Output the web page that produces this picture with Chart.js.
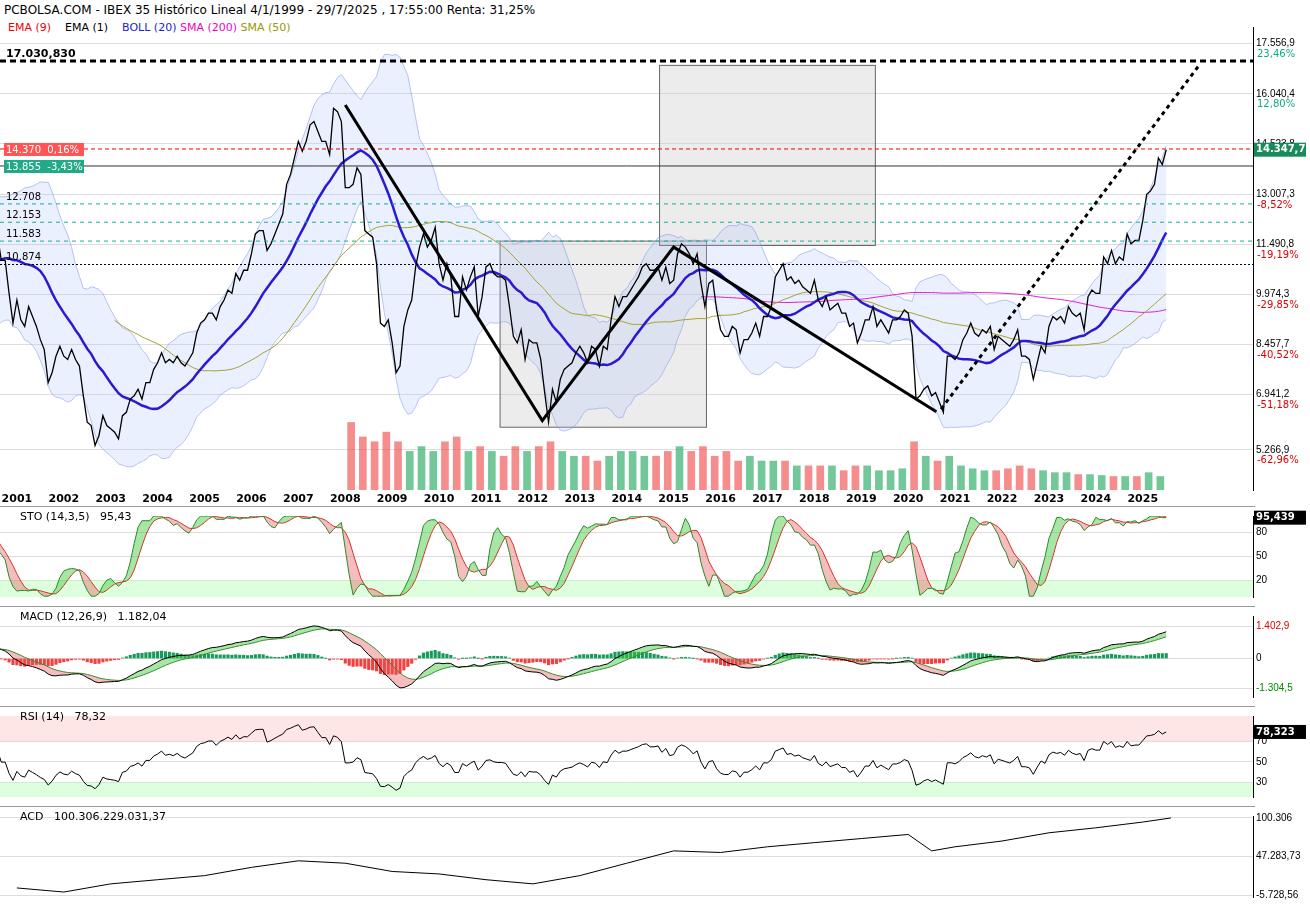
<!DOCTYPE html>
<html><head><meta charset="utf-8">
<script src="https://cdn.jsdelivr.net/npm/chart.js@4.4.1/dist/chart.umd.min.js"></script>
<style>
body{margin:0;background:#fff;font-family:"DejaVu Sans",Arial,sans-serif;}
#wrap{position:relative;width:1310px;height:912px;}
canvas{position:absolute;left:0;}
.lbl{position:absolute;font-size:11px;white-space:nowrap;}
.sep{position:absolute;left:0;width:1255px;height:1px;background:#999;}
</style></head><body>
<div id="wrap">
  <div class="lbl" style="left:4px;top:3px;font-size:12px;">PCBOLSA.COM - IBEX 35 Histórico Lineal 4/1/1999 - 29/7/2025 , 17:55:00 Renta: 31,25%</div>
  <div class="lbl" style="left:8px;top:21px;"><span style="color:#e00">EMA (9)</span>&nbsp;&nbsp;&nbsp;&nbsp;<span>EMA (1)</span>&nbsp;&nbsp;&nbsp;&nbsp;<span style="color:#22c">BOLL (20)</span>&nbsp;<span style="color:#e0c">SMA (200)</span>&nbsp;<span style="color:#990">SMA (50)</span></div>
  <canvas id="main" width="1310" height="490" style="top:18px"></canvas>
  <canvas id="sto" width="1310" height="99" style="top:507px"></canvas>
  <canvas id="macd" width="1310" height="99" style="top:607px"></canvas>
  <canvas id="rsi" width="1310" height="99" style="top:707px"></canvas>
  <canvas id="acd" width="1310" height="99" style="top:807px"></canvas>
  <div class="sep" style="top:506px"></div><div class="sep" style="top:606px"></div>
  <div class="sep" style="top:706px"></div><div class="sep" style="top:806px"></div>
  <div class="lbl" style="left:20px;top:510px;">STO (14,3,5)&nbsp;&nbsp;&nbsp;95,43</div>
  <div class="lbl" style="left:20px;top:610px;">MACD (12,26,9)&nbsp;&nbsp;&nbsp;1.182,04</div>
  <div class="lbl" style="left:20px;top:710px;">RSI (14)&nbsp;&nbsp;&nbsp;78,32</div>
  <div class="lbl" style="left:20px;top:810px;">ACD&nbsp;&nbsp;&nbsp;100.306.229.031,37</div>
</div>
<script>
// monthly closes, Jan 1999 .. Jul 2025
const closes = [
  10100,10300,10000,10100,10000,10100,10300,10000,10000,10200,10600,11600,
  12000,12800,12600,12300,11800,11400,11600,11800,11000,11000,10000,9100,
  9800,9200,9000,9600,9300,9000,8600,8300,7300,7600,8100,8400,
  8100,8000,8300,8000,7800,6900,6100,6000,5400,5700,6300,6000,
  5900,5800,5600,6300,6400,6800,6900,7100,6800,7300,7300,7700,
  7900,8200,7900,8000,7900,8100,7900,7800,8000,8200,8800,9100,
  9200,9400,9400,9200,9600,9800,10100,10000,10600,10400,10700,10700,
  11200,11800,11900,11900,11300,11500,11800,12100,12400,13300,13600,14100,
  14600,14300,14600,15100,15200,14900,14600,14600,14200,15600,15500,15200,
  13200,13200,13300,13800,13600,11900,11800,11700,10900,9100,9000,9200,
  8500,7600,7800,9000,9500,9800,10800,11400,11800,11400,11600,12000,
  10900,10400,10900,10500,9300,9300,10500,10100,10500,10800,9300,9900,
  10800,10900,10600,10500,10500,10400,9600,8700,8500,8900,8000,8600,
  8500,8500,8000,7000,6100,7100,6700,7400,7700,7800,7900,8200,
  8400,8200,7900,8400,8300,7800,8400,8300,9200,9900,9600,9900,
  9900,10100,10300,10500,10800,10900,10700,10700,10800,10400,10800,10300,
  10400,11200,11500,11400,11200,10900,11200,10300,9600,10300,10400,9500,
  8900,8700,8700,9000,8900,8200,8600,8600,8800,9100,8700,9300,
  9300,9600,10500,10700,10900,10400,10500,10300,10400,10200,10100,10000,
  10400,9800,9600,9900,9500,9600,9700,9400,9400,9000,9100,8500,
  8800,9200,9200,9600,9000,9200,9000,8800,9200,9200,9300,9500,
  9400,8700,6800,6900,7100,7200,6900,7000,6700,6400,8100,8100,
  8000,8200,8600,8800,9100,8800,8700,8900,8800,9000,8300,8700,
  8600,8500,8400,8600,8900,8100,8100,8000,7400,7900,8400,8200,
  9000,9300,9200,9300,9100,9600,9400,9300,9400,8900,9900,10100,
  10000,10000,11100,10900,11300,10900,11100,11000,11800,11500,11600,11600,
  12200,13000,13100,13300,14100,13900,14347
];
const startYear = 1999;
// quarterly volume 2008Q1 .. 2025Q2 (relative units)
const volumes = [70,55,50,60, 50,40,45,40, 50,55,40,45, 40,35,45,40, 45,50,40,35,
  35,30,35,40, 40,35,35,40, 45,40,45,35, 40,30,35,30, 30,30,25,25, 25,25,20,25,
  25,20,20,22, 50,35,30,35, 25,22,20,20, 22,25,22,20, 18,18,16,16, 15,14,14,14, 18,14];
const volStart = 2008;
// ACD (accumulation/distribution) read per year, millions
const acdYears = [2001,2002,2003,2004,2005,2006,2007,2008,2009,2010,2011,2012,2013,2014,2015,2016,2017,2018,2019,2020,2020.5,2021,2022,2023,2024,2025,2025.6];
const acdValues = [4400,-1200,10000,15700,21300,32600,41600,38300,27000,23600,15700,10000,21300,38300,55200,53000,60800,66500,72100,77700,55200,60800,68700,80000,86800,94700,100306];
const priceTicks = [17556.9,16040.4,14523.8,13007.3,11490.8,9974.3,8457.7,6941.2,5266.9];
const pctTicks = ["23,46%","12,80%","","-8,52%","-19,19%","-29,85%","-40,52%","-51,18%","-62,96%"];
const levels = [
  {v:17030.83,label:"17.030,830",color:"#000",dash:[6,4],w:3},
  {v:14370,label:"",color:"#e00",dash:[4,3],w:1},
  {v:13855,label:"",color:"#333",dash:[],w:1},
  {v:12708,label:"12.708",color:"#2a9",dash:[4,4],w:1},
  {v:12153,label:"12.153",color:"#2a9",dash:[4,4],w:1},
  {v:11583,label:"11.583",color:"#2a9",dash:[4,4],w:1},
  {v:10874,label:"10.874",color:"#000",dash:[2,2],w:1}
];
const boxes = [{x0:2011.3,x1:2015.7,y0:5950,y1:11583},{x0:2014.7,x1:2019.3,y0:11450,y1:16900}];
const trend = [[2008.0,15700],[2012.2,6150],[2015.0,11400],[2020.6,6420]];
const dotted = [[2020.7,6500],[2026.2,16900]];

const xMin = 2000.64, xMax = 2027.35;
const xs = closes.map((_, i) => startYear + i / 12);
const pts = a => a.map((v, i) => ({x: xs[i], y: v}));

function sma(a, n) { return a.map((_, i) => i < n - 1 ? null : a.slice(i - n + 1, i + 1).reduce((s, v) => s + v, 0) / n); }
function ema(a, n) { const k = 2 / (n + 1); let e = a[0]; return a.map(v => (e = v * k + e * (1 - k))); }
const mid = sma(closes, 20);
const sd = closes.map((_, i) => { if (i < 19) return null; const s = closes.slice(i - 19, i + 1); const m = mid[i]; return Math.sqrt(s.reduce((t, v) => t + (v - m) ** 2, 0) / 20); });
const up = mid.map((m, i) => m == null ? null : m + 2 * sd[i]);
const lo = mid.map((m, i) => m == null ? null : m - 2 * sd[i]);
const sma50 = sma(closes, 50), sma200 = sma(closes, 200);
const rawK = closes.map((c, i) => { const s = closes.slice(Math.max(0, i - 13), i + 1); const h = Math.max(...s), l = Math.min(...s); return h === l ? 50 : (c - l) / (h - l) * 100; });
const stoK = sma(rawK, 3).map((v, i) => v == null ? rawK[i] : v);
const stoD = sma(stoK, 5).map((v, i) => v == null ? stoK[i] : v);
const e12 = ema(closes, 12), e26 = ema(closes, 26);
const macdL = e12.map((v, i) => v - e26[i]);
const sig = ema(macdL, 9);
const hist = macdL.map((v, i) => v - sig[i]);
let ag = 0, al = 0;
const rsi = closes.map((c, i) => { if (i === 0) return 50; const d = c - closes[i - 1]; ag = (ag * 13 + Math.max(d, 0)) / 14; al = (al * 13 + Math.max(-d, 0)) / 14; return al === 0 ? 100 : 100 - 100 / (1 + ag / al); });

const fmt = (v, d) => v.toLocaleString("es-ES", {minimumFractionDigits: d, maximumFractionDigits: d, useGrouping: "always"});
const xAxis = {type: "linear", min: xMin, max: xMax, display: false, offset: false};
const yRight = (min, max, ticks, dec) => ({position: "right", min, max,
  afterFit: s => { s.width = 57; },
  afterBuildTicks: s => { s.ticks = ticks.map(v => ({value: v})); },
  grid: {color: "#ddd", drawTicks: false}, border: {display: true, color: "#000"},
  ticks: {color: "#000", font: {size: 10}, padding: 3, callback: v => dec < 0 ? v : fmt(v, dec)}});
const base = {animation: false, responsive: false, maintainAspectRatio: false,
  plugins: {legend: {display: false}, tooltip: {enabled: false}},
  elements: {point: {radius: 0}, line: {tension: 0}}};

function lastBox(chart, val, text, bg) {
  const c = chart.ctx, y = chart.scales.y.getPixelForValue(val), x = chart.chartArea.right + 1;
  c.save(); c.fillStyle = bg; c.fillRect(x, y - 7, 52, 14);
  c.fillStyle = "#fff"; c.font = "bold 10px DejaVu Sans"; c.textBaseline = "middle"; c.fillText(text, x + 2, y); c.restore();
}

const mainPlugin = {
  id: "mainDeco",
  beforeDatasetsDraw(ch) {
    const c = ch.ctx, X = ch.scales.x, Y = ch.scales.y;
    c.save();
    boxes.forEach(b => {
      const x0 = X.getPixelForValue(b.x0), x1 = X.getPixelForValue(b.x1), y0 = Y.getPixelForValue(b.y1), y1 = Y.getPixelForValue(b.y0);
      c.fillStyle = "rgba(200,200,200,0.35)"; c.fillRect(x0, y0, x1 - x0, y1 - y0);
      c.strokeStyle = "#666"; c.lineWidth = 1; c.strokeRect(x0, y0, x1 - x0, y1 - y0);
    });
    c.restore();
  },
  afterDatasetsDraw(ch) {
    const c = ch.ctx, X = ch.scales.x, Y = ch.scales.y, a = ch.chartArea;
    c.save();
    levels.forEach(l => {
      const y = Y.getPixelForValue(l.v);
      c.strokeStyle = l.color; c.lineWidth = l.w; c.setLineDash(l.dash);
      c.beginPath(); c.moveTo(a.left, y); c.lineTo(a.right, y); c.stroke();
      if (l.label) { c.fillStyle = "#000"; c.font = (l.w > 1 ? "bold 11px" : "10px") + " DejaVu Sans"; c.fillText(l.label, 6, y - 4); }
    });
    c.setLineDash([]); c.strokeStyle = "#000"; c.lineWidth = 3;
    c.beginPath(); trend.forEach((p, i) => { const px = X.getPixelForValue(p[0]), py = Y.getPixelForValue(p[1]); i ? c.lineTo(px, py) : c.moveTo(px, py); }); c.stroke();
    c.setLineDash([4, 4]);
    c.beginPath(); c.moveTo(X.getPixelForValue(dotted[0][0]), Y.getPixelForValue(dotted[0][1])); c.lineTo(X.getPixelForValue(dotted[1][0]), Y.getPixelForValue(dotted[1][1])); c.stroke();
    c.setLineDash([]);
    [[14370, "14.370  0,16%", "#f55"], [13855, "13.855  -3,43%", "#2a8"]].forEach(t => {
      const y = Y.getPixelForValue(t[0]); c.fillStyle = t[2]; c.fillRect(4, y - 6, 80, 13);
      c.fillStyle = "#fff"; c.font = "10px DejaVu Sans"; c.textBaseline = "middle"; c.fillText(t[1], 6, y + 1);
    });
    c.font = "10px DejaVu Sans"; c.textBaseline = "middle";
    priceTicks.forEach((v, i) => { if (!pctTicks[i]) return; c.fillStyle = pctTicks[i][0] === "-" ? "#d00" : "#1a8"; c.fillText(pctTicks[i], a.right + 4, Y.getPixelForValue(v) + 11); });
    c.fillStyle = "#000"; c.font = "bold 11px DejaVu Sans"; c.textAlign = "center"; c.textBaseline = "top";
    for (let yr = 2001; yr <= 2025; yr++) c.fillText(String(yr), X.getPixelForValue(yr), a.bottom + 4);
    c.restore();
    lastBox(ch, 14347.7, "14.347,7", "#1a8a5a");
  }
};

const volPts = volumes.map((v, i) => ({x: volStart + i / 4 + 0.125, y: v}));
const volCol = volumes.map((_, i) => {
  const m = (volStart - startYear) * 12 + i * 3; const e = Math.min(m + 2, closes.length - 1);
  return closes[e] >= closes[m - 1] ? "rgba(40,170,100,0.65)" : "rgba(240,80,80,0.65)";
});

new Chart(document.getElementById("main"), {
  type: "line",
  data: {datasets: [
    {data: pts(closes), yAxisID: "y", borderColor: "#000", borderWidth: 1.3, order: 1},
    {data: pts(mid), yAxisID: "y", borderColor: "#2a1ad0", borderWidth: 2.5, order: 2},
    {data: pts(sma50), yAxisID: "y", borderColor: "#a8a030", borderWidth: 1, order: 3},
    {data: pts(sma200), yAxisID: "y", borderColor: "#e020d0", borderWidth: 1, order: 4},
    {data: pts(up), yAxisID: "y", borderColor: "rgba(120,140,230,0.5)", borderWidth: 1, fill: "+1", backgroundColor: "rgba(170,195,250,0.25)", order: 5},
    {data: pts(lo), yAxisID: "y", borderColor: "rgba(120,140,230,0.5)", borderWidth: 1, fill: false, order: 6},
    {type: "bar", data: volPts, yAxisID: "yv", backgroundColor: volCol, barThickness: 7, order: 7}
  ]},
  options: {...base, layout: {padding: {bottom: 18}},
    scales: {x: xAxis, y: yRight(4050, 18061, priceTicks, 1), yv: {display: false, min: 0, max: 480}}},
  plugins: [mainPlugin]
});

const bandPlugin = (hi, lo2, val, text) => ({id: "bands",
  beforeDatasetsDraw(ch) {
    const c = ch.ctx, Y = ch.scales.y, a = ch.chartArea; c.save();
    c.fillStyle = "rgba(255,200,200,0.45)"; c.fillRect(a.left, a.top, a.width, Y.getPixelForValue(hi) - a.top);
    c.fillStyle = "rgba(190,255,190,0.5)"; const yl = Y.getPixelForValue(lo2); c.fillRect(a.left, yl, a.width, a.bottom - yl);
    c.restore();
  },
  afterDatasetsDraw(ch) { lastBox(ch, val, text, "#000"); }});

new Chart(document.getElementById("sto"), {
  type: "line",
  data: {datasets: [
    {data: pts(stoK), borderColor: "#2a8a2a", borderWidth: 1, fill: {target: 1, above: "rgba(60,200,60,0.45)", below: "rgba(230,90,90,0.4)"}},
    {data: pts(stoD), borderColor: "#e02020", borderWidth: 1}
  ]},
  options: {...base, scales: {x: xAxis, y: yRight(-1, 100, [80, 50, 20], -1)}},
  plugins: [bandPlugin(100, 20, stoK[stoK.length - 1], "95,439")]
});

new Chart(document.getElementById("macd"), {
  type: "line",
  data: {datasets: [
    {data: pts(macdL), borderColor: "#000", borderWidth: 1, fill: {target: 1, above: "rgba(60,200,60,0.45)", below: "rgba(230,90,90,0.4)"}},
    {data: pts(sig), borderColor: "#2a8a2a", borderWidth: 1},
    {type: "bar", data: pts(hist), backgroundColor: hist.map(v => v >= 0 ? "#1a9a5a" : "#f04040"), barThickness: 2.5}
  ]},
  options: {...base, scales: {x: xAxis, y: {...yRight(-1690, 1870, [1402.9, 0, -1304.5], 1),
    ticks: {font: {size: 10}, padding: 3, color: c => c.tick.value > 0 ? "#d00" : c.tick.value < 0 ? "#080" : "#000", callback: v => v === 0 ? "0" : fmt(v, 1)}}}}
});

new Chart(document.getElementById("rsi"), {
  type: "line",
  data: {datasets: [{data: pts(rsi), borderColor: "#000", borderWidth: 1}]},
  options: {...base, scales: {x: xAxis, y: yRight(15.6, 94.8, [70, 50, 30], -1)}},
  plugins: [bandPlugin(70, 30, rsi[rsi.length - 1], "78,323")]
});

new Chart(document.getElementById("acd"), {
  type: "line",
  data: {datasets: [{data: acdYears.map((x, i) => ({x, y: acdValues[i]})), borderColor: "#000", borderWidth: 1}]},
  options: {...base, scales: {x: xAxis, y: {...yRight(-8000, 103000, [100306, 47283.73, -5728], -1),
    ticks: {font: {size: 10}, padding: 3, color: "#000", callback: v => v === 47283.73 ? "47.283,73" : v === 100306 ? "100.306" : "-5.728,56"}}}}
});
</script>
</body></html>
